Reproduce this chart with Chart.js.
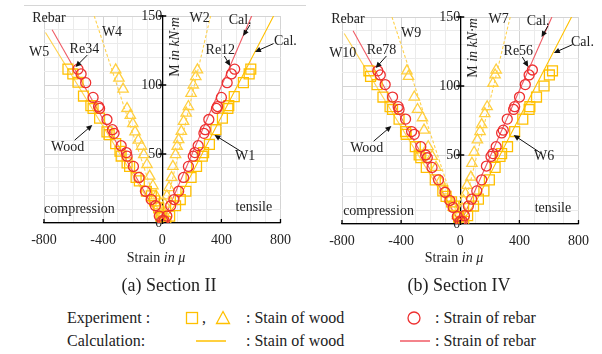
<!DOCTYPE html>
<html><head><meta charset="utf-8">
<script src="https://cdn.jsdelivr.net/npm/chart.js@4/dist/chart.umd.min.js"></script>
<style>
body{margin:0;width:602px;height:354px;background:#fff;position:relative;overflow:hidden;font-family:"Liberation Serif","DejaVu Serif",serif;color:#222;}
canvas{position:absolute;}
.t{position:absolute;white-space:nowrap;line-height:18px;}
.c{text-align:center;}
svg{position:absolute;}
</style></head><body>
<div style="position:absolute;left:24px;top:5px;width:282px;border-top:1px solid #d6d6d6"></div>
<canvas id="c1" width="300" height="250" style="left:0;top:0"></canvas>
<canvas id="c2" width="300" height="250" style="left:298px;top:1px"></canvas>

<div class="t c" style="left:106px;top:249px;width:100px;font-size:14px">Strain <i>in μ</i></div>
<div class="t c" style="left:404px;top:249px;width:100px;font-size:14px">Strain <i>in μ</i></div>
<div class="t c" style="left:89px;top:275px;width:160px;font-size:18px;line-height:20px">(a) Section II</div>
<div class="t c" style="left:379px;top:275px;width:160px;font-size:18px;line-height:20px">(b) Section IV</div>

<div class="t" style="left:67px;top:309px;font-size:16px">Experiment :</div>
<svg style="left:185px;top:311px" width="14" height="14"><rect x="1.5" y="1.5" width="11" height="11" fill="none" stroke="#FFC000" stroke-width="1.3"/></svg>
<div class="t" style="left:202px;top:309px;font-size:16px">,</div>
<svg style="left:215px;top:310px" width="16" height="15"><polygon points="8,1.5 14.5,13.5 1.5,13.5" fill="none" stroke="#FFC000" stroke-width="1.3"/></svg>
<div class="t" style="left:246px;top:309px;font-size:16px">: Stain of wood</div>
<svg style="left:406px;top:310px" width="16" height="16"><circle cx="8" cy="8" r="6" fill="none" stroke="#EE3030" stroke-width="1.3"/></svg>
<div class="t" style="left:435px;top:309px;font-size:16px">: Strain of rebar</div>

<div class="t" style="left:67px;top:332px;font-size:16px">Calculation:</div>
<svg style="left:196px;top:339px" width="30" height="4"><line x1="0" y1="2" x2="30" y2="2" stroke="#FFC000" stroke-width="1.5"/></svg>
<div class="t" style="left:246px;top:332px;font-size:16px">: Stain of wood</div>
<svg style="left:400px;top:339px" width="30" height="4"><line x1="0" y1="2" x2="30" y2="2" stroke="#F05A64" stroke-width="1.5"/></svg>
<div class="t" style="left:435px;top:332px;font-size:16px">: Strain of rebar</div>

<script>
// ---------- axis ticks ----------
const xTickLabels = [-800, -400, 0, 400, 800];
const yTickLabels = [0, 50, 100, 150];

// ---------- Section II (a) : experiment ----------
const s2_W5_strain = [-638,-605,-570,-533,-483,-468,-424,-374,-359,-315,-286,-278,-238,-221,-177,-155,-107,-74,-52,-24,-9,7];
const s2_W5_M      = [111.5,108,102,92,85,83,76,66,64,57.5,52,48.5,43.6,41,33,30.5,23,19.7,16,11,5,1];
const s2_Re34_strain = [-570,-549,-518,-468,-431,-424,-374,-337,-326,-278,-243,-238,-195,-157,-114,-74,-46,-20,2];
const s2_Re34_M      = [111.5,108,101.7,91,84.4,83,75,67.6,65,56,51,48.4,41,33,23,17,12.5,5,1.7];
const s2_W4_strain = [-315,-293,-265,-238,-216,-199,-184,-162,-140,-125,-103,-85,-63,-42,-24,-9];
const s2_W4_M      = [111,105,97,83,78,72,66,60,55.6,49.6,42.4,34,27,19.7,12.5,6.5];
const s2_W2_strain = [238,227,210,195,177,162,144,129,111,101,90,72,63,46,31,17,9];
const s2_W2_M      = [111,106,100,94,84.4,79.6,73.6,66.4,60.4,55.6,49.6,41,33,25.7,19.7,13.7,7.7];
const s2_Re12_strain = [490,468,439,400,374,367,315,291,282,243,221,210,177,144,111,79,57,31,13];
const s2_Re12_M      = [111.5,108,101.7,91,84.4,83,75,67.6,65,56,51,48.4,41,33,23,17,12.5,5,1.7];
const s2_W1_strain = [599,588,549,487,450,444,407,363,319,280,271,232,195,160,122,90,50,24];
const s2_W1_M      = [111.5,108,101.7,91.6,85,83,76,67.6,57,51,48.4,41,33,23,17,12.5,5,1];
// ---------- Section II (a) : calculation ----------
const s2_calRebarC_strain = [0,-745]; const s2_calRebarC_M = [0,140];
const s2_calRebarT_strain = [0,605];  const s2_calRebarT_M = [0,150];
const s2_calWoodT_strain = [0,100,753]; const s2_calWoodT_M = [0,15,150];
const s2_calW5_strain = [0,-790]; const s2_calW5_M = [0,138];
const s2_calW4_strain = [0,-460]; const s2_calW4_M = [0,150];
const s2_calW2_strain = [0,327];  const s2_calW2_M = [0,150];

// ---------- Section IV (b) : experiment ----------
const s4_W10_strain = [-618,-607,-563,-523,-475,-458,-414,-370,-366,-304,-278,-267,-230,-169,-118,-96,-59,-42,-11,7];
const s4_W10_M      = [111,107,101,92,85,83,76,67,65,56,50,48,41,32,24,20,16,13,5,2];
const s4_Re78_strain = [-558,-541,-508,-458,-420,-414,-370,-329,-311,-267,-234,-223,-191,-147,-103,-70,-48,-20,0];
const s4_Re78_M      = [111,108,101,92,85,83,76,67,65,56,50,48,41,32,23,17,12,5.5,2];
const s4_W9_strain = [-361,-350,-311,-289,-256,-245,-217,-190,-164,-136,-103,-70,-48,-20];
const s4_W9_M      = [111,107,92,83,77,68,56,49,41,31,24,18,12,6];
const s4_W7_strain = [243,236,221,182,166,145,134,116,94,79,72,46,35,22,13];
const s4_W7_M      = [111.6,108,102,85,80,72,67,61,52,44,34,28,22,17,11];
const s4_Re56_strain = [488,466,440,401,368,361,318,291,280,243,221,208,177,145,112,77,55,28,13];
const s4_Re56_M      = [111.6,108,101,92,85,83,76,68,66,56,51,49,42,32,24,18,13,6,2];
const s4_W6_strain = [624,603,567,516,471,466,423,368,320,280,269,236,197,160,123,90,50,24];
const s4_W6_M      = [111,108,100,92,85,83,76,67,56,51,49,41,32,24,18,13,6,2];
// ---------- Section IV (b) : calculation ----------
const s4_calRebarC_strain = [0,-725]; const s4_calRebarC_M = [0,140];
const s4_calRebarT_strain = [0,620];  const s4_calRebarT_M = [0,150];
const s4_calWoodT_strain = [0,100,753]; const s4_calWoodT_M = [0,15,150];
const s4_calW10_strain = [0,-785]; const s4_calW10_M = [0,138];
const s4_calW9_strain = [0,-462]; const s4_calW9_M = [0,150];
const s4_calW7_strain = [0,338];  const s4_calW7_M = [0,150];

// ---------- annotation labels (text, strain, M) ----------
const s2_labels = [['Rebar',-767,148],['W5',-833,124],['Re34',-527,126],['W4',-340,138],['W2',253,148],['Cal.',527,147],['Cal.',833,132],['Re12',393,125],['Wood',-640,55],['W1',560,48.5],['compression',-560,10],['tensile',620,11]];
const s2_arrows = [[-507,121.7,-587,113],[-593,60,-473,71],[593,143.5,547,135.5],[753,130,627,124],[420,121,460,113.8],[540,51.4,353,63.8]];
const s4_labels = [['Rebar',-760,148],['W10',-795,124],['Re78',-533,126],['W9',-333,138],['W7',260,148],['Cal.',527,147],['Cal.',827,132],['Re56',393,125],['Wood',-633,55],['W6',567,49],['compression',-553,9.5],['tensile',627,11]];
const s4_arrows = [[-500,121.7,-572,113],[-586,60,-466,71],[593,143.5,550,135.5],[760,130,633,124],[420,121,460,113.8],[545,51.4,361,64.5]];

const ORANGE = '#FFC000', TRI = '#FFCF40', RED = '#EE3030', REDLINE = '#F05A64', DASH = '#FFD24D';
const FONT = "'Liberation Serif', 'DejaVu Serif', serif";

function pts(xs, ys){ return xs.map((v,i)=>({x:v, y:ys[i]})); }
function pointSet(xs, ys, style, color, r, order){
  return {data:pts(xs,ys), pointStyle:style, pointRadius:r, pointBorderColor:color, pointBackgroundColor:'rgba(0,0,0,0)', pointBorderWidth:1.3, showLine:false, order};
}
function lineSet(xs, ys, color, dash, order){
  return {data:pts(xs,ys), showLine:true, borderColor:color, borderWidth:1.1, borderDash:dash||[], pointRadius:0, order};
}

const overlay = {
  id:'overlay',
  afterDraw(chart, args, opts){
    const {ctx} = chart, xs = chart.scales.x, ys = chart.scales.y;
    const x0 = xs.getPixelForValue(0), y0 = ys.getPixelForValue(0);
    ctx.save();
    ctx.strokeStyle = '#000'; ctx.lineWidth = 1.3;
    ctx.beginPath();
    yTickLabels.forEach(v=>{ if(v===0) return; const py = ys.getPixelForValue(v); ctx.moveTo(x0-4,py); ctx.lineTo(x0+4,py); });
    xTickLabels.forEach(v=>{ const px = xs.getPixelForValue(v); ctx.moveTo(px,y0); ctx.lineTo(px,y0-4); });
    ctx.stroke();
    // y axis title
    ctx.save();
    ctx.translate(x0+13, ys.getPixelForValue(150)+31);
    ctx.rotate(-Math.PI/2);
    ctx.fillStyle = '#222'; ctx.textBaseline = 'middle';
    const parts = [['M ', ''], ['in kN·m', 'italic ']];
    let w = 0; parts.forEach(p=>{ ctx.font = p[1]+'14px '+FONT; w += ctx.measureText(p[0]).width; });
    let cx = -w/2;
    parts.forEach(p=>{ ctx.font = p[1]+'14px '+FONT; ctx.textAlign='left'; ctx.fillText(p[0], cx, 0); cx += ctx.measureText(p[0]).width; });
    ctx.restore();
    // labels
    ctx.font = '14px '+FONT; ctx.fillStyle = '#222'; ctx.textAlign = 'center'; ctx.textBaseline = 'middle';
    opts.labels.forEach(l=> ctx.fillText(l[0], xs.getPixelForValue(l[1]), ys.getPixelForValue(l[2])));
    // arrows
    ctx.strokeStyle = '#111'; ctx.fillStyle = '#111'; ctx.lineWidth = 1;
    opts.arrows.forEach(a=>{
      const x1 = xs.getPixelForValue(a[0]), y1 = ys.getPixelForValue(a[1]);
      const x2 = xs.getPixelForValue(a[2]), y2 = ys.getPixelForValue(a[3]);
      const ang = Math.atan2(y2-y1, x2-x1), L = 6, H = 2.8;
      ctx.beginPath(); ctx.moveTo(x1,y1); ctx.lineTo(x2-Math.cos(ang)*L*0.8, y2-Math.sin(ang)*L*0.8); ctx.stroke();
      ctx.beginPath();
      ctx.moveTo(x2,y2);
      ctx.lineTo(x2-Math.cos(ang)*L-Math.sin(ang)*H, y2-Math.sin(ang)*L+Math.cos(ang)*H);
      ctx.lineTo(x2-Math.cos(ang)*L+Math.sin(ang)*H, y2-Math.sin(ang)*L-Math.cos(ang)*H);
      ctx.closePath(); ctx.fill();
    });
    ctx.restore();
  }
};

function makeChart(id, datasets, labels, arrows){
  return new Chart(document.getElementById(id), {
    type:'scatter',
    data:{datasets},
    options:{
      responsive:false, animation:false, devicePixelRatio:1,
      layout:{padding:{left:44, right:16, top:16, bottom:0}},
      plugins:{legend:{display:false}, tooltip:{enabled:false}, overlay:{labels, arrows}},
      scales:{
        x:{type:'linear', position:'bottom', min:-800, max:800,
           afterFit:s=>{ s.height = 27; },
           ticks:{stepSize:100, autoSkip:false, maxRotation:0, padding:9, color:'#222', font:{family:FONT, size:14},
                  callback:v=> xTickLabels.includes(v) ? String(v) : ''},
           grid:{drawTicks:false, color:c=> (c.tick && xTickLabels.includes(c.tick.value)) ? '#d4d4d4' : '#ebebeb'},
           border:{color:'#000', width:1.3}},
        y:{type:'linear', position:{x:0}, min:0, max:150,
           ticks:{stepSize:10, autoSkip:false, padding:5, color:'#222', font:{family:FONT, size:14},
                  callback:v=> yTickLabels.includes(v) ? String(v) : ''},
           grid:{drawTicks:false, color:c=> (c.tick && yTickLabels.includes(c.tick.value)) ? '#d4d4d4' : '#ebebeb'},
           border:{color:'#000', width:1.3}}
      }
    },
    plugins:[overlay]
  });
}

makeChart('c1', [
  pointSet(s2_Re34_strain, s2_Re34_M, 'circle', RED, 5, 0),
  pointSet(s2_Re12_strain, s2_Re12_M, 'circle', RED, 5, 0),
  pointSet(s2_W5_strain, s2_W5_M, 'rect', ORANGE, 7, 1),
  pointSet(s2_W1_strain, s2_W1_M, 'rect', ORANGE, 7, 1),
  pointSet(s2_W4_strain, s2_W4_M, 'triangle', TRI, 6, 2),
  pointSet(s2_W2_strain, s2_W2_M, 'triangle', TRI, 6, 2),
  lineSet(s2_calRebarC_strain, s2_calRebarC_M, REDLINE, null, 3),
  lineSet(s2_calRebarT_strain, s2_calRebarT_M, REDLINE, null, 3),
  lineSet(s2_calWoodT_strain, s2_calWoodT_M, ORANGE, null, 3),
  lineSet(s2_calW5_strain, s2_calW5_M, DASH, null, 3),
  lineSet(s2_calW4_strain, s2_calW4_M, DASH, [3,2], 3),
  lineSet(s2_calW2_strain, s2_calW2_M, DASH, [3,2], 3)
], s2_labels, s2_arrows);

makeChart('c2', [
  pointSet(s4_Re78_strain, s4_Re78_M, 'circle', RED, 5, 0),
  pointSet(s4_Re56_strain, s4_Re56_M, 'circle', RED, 5, 0),
  pointSet(s4_W10_strain, s4_W10_M, 'rect', ORANGE, 7, 1),
  pointSet(s4_W6_strain, s4_W6_M, 'rect', ORANGE, 7, 1),
  pointSet(s4_W9_strain, s4_W9_M, 'triangle', TRI, 6, 2),
  pointSet(s4_W7_strain, s4_W7_M, 'triangle', TRI, 6, 2),
  lineSet(s4_calRebarC_strain, s4_calRebarC_M, REDLINE, null, 3),
  lineSet(s4_calRebarT_strain, s4_calRebarT_M, REDLINE, null, 3),
  lineSet(s4_calWoodT_strain, s4_calWoodT_M, ORANGE, null, 3),
  lineSet(s4_calW10_strain, s4_calW10_M, DASH, null, 3),
  lineSet(s4_calW9_strain, s4_calW9_M, DASH, [3,2], 3),
  lineSet(s4_calW7_strain, s4_calW7_M, DASH, [3,2], 3)
], s4_labels, s4_arrows);
</script>
</body></html>
